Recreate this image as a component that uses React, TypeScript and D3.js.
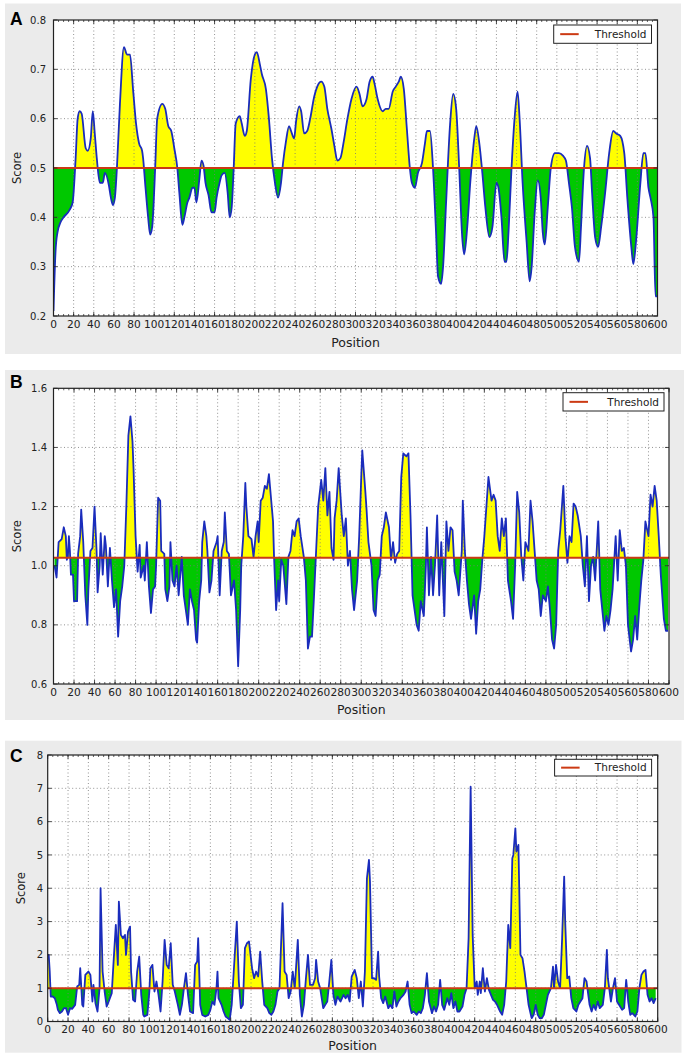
import React from 'react';
import * as d3 from 'd3';

const W = 685;
const H = 1054;

// Panel A: [position, score]
const A_DATA: [number, number][] = [
  [0,0.21],[2,0.33],[4,0.37],[7,0.39],[10,0.40],[16,0.415],[19,0.43],[22,0.52],[24,0.6],[26,0.615],[28,0.61],
  [32,0.54],[34,0.535],[37,0.56],[39,0.615],[41,0.57],[43,0.52],[46,0.47],[49,0.47],[51,0.49],[55,0.465],
  [57,0.44],[59,0.425],[61,0.44],[63,0.5],[66,0.63],[70,0.745],[73,0.73],[76,0.73],[79,0.66],[82,0.59],
  [85,0.55],[88,0.535],[89,0.52],[91,0.47],[94,0.40],[96,0.365],[98,0.38],[101,0.5],[103,0.6],[108,0.63],
  [111,0.62],[114,0.585],[117,0.575],[120,0.54],[123,0.5],[125,0.45],[128,0.385],[130,0.40],[133,0.43],
  [135,0.44],[138,0.46],[140,0.46],[142,0.43],[145,0.48],[147,0.515],[149,0.505],[151,0.47],[154,0.445],
  [157,0.41],[160,0.41],[162,0.44],[165,0.47],[167,0.485],[170,0.49],[173,0.45],[175,0.40],[177,0.42],
  [179,0.5],[181,0.59],[185,0.605],[187,0.59],[190,0.565],[192,0.575],[196,0.68],[200,0.73],[202,0.735],
  [205,0.71],[207,0.69],[211,0.66],[214,0.6],[217,0.52],[220,0.47],[223,0.44],[226,0.47],[228,0.51],
  [231,0.555],[234,0.585],[236,0.575],[239,0.56],[241,0.595],[244,0.625],[246,0.615],[249,0.57],[252,0.575],
  [255,0.6],[259,0.645],[262,0.665],[266,0.675],[269,0.665],[272,0.62],[276,0.58],[279,0.545],[282,0.515],
  [285,0.52],[288,0.55],[292,0.6],[296,0.64],[301,0.665],[304,0.65],[307,0.625],[311,0.64],[314,0.675],
  [317,0.685],[319,0.67],[322,0.64],[327,0.615],[330,0.62],[333,0.62],[337,0.655],[340,0.665],[343,0.675],
  [345,0.685],[348,0.66],[351,0.58],[354,0.5],[356,0.47],[359,0.46],[362,0.49],[366,0.51],[369,0.55],
  [371,0.575],[374,0.575],[377,0.5],[380,0.37],[382,0.28],[385,0.265],[387,0.3],[390,0.43],[394,0.59],
  [397,0.65],[400,0.62],[403,0.5],[406,0.36],[408,0.325],[411,0.38],[414,0.47],[418,0.56],[420,0.585],
  [423,0.55],[426,0.49],[429,0.42],[433,0.36],[436,0.38],[440,0.47],[442,0.46],[445,0.4],[448,0.31],
  [450,0.31],[452,0.37],[455,0.5],[458,0.6],[461,0.655],[463,0.6],[466,0.47],[470,0.35],[473,0.27],
  [475,0.3],[478,0.41],[481,0.475],[484,0.44],[486,0.37],[488,0.345],[491,0.42],[494,0.5],[498,0.53],
  [502,0.53],[506,0.525],[509,0.515],[512,0.47],[515,0.42],[518,0.34],[522,0.31],[524,0.38],[527,0.5],
  [530,0.545],[533,0.52],[535,0.45],[538,0.36],[541,0.34],[544,0.38],[548,0.45],[552,0.53],[556,0.575],
  [559,0.57],[563,0.565],[567,0.53],[570,0.44],[574,0.34],[576,0.305],[579,0.36],[583,0.47],[586,0.53],
  [588,0.53],[591,0.46],[593,0.44],[596,0.4],[598,0.24],[600,0.24],
];

// Panel B: [position, score]
const B_DATA: [number, number][] = [
  [1,1.0],[3,0.96],[5,1.08],[8,1.09],[10,1.13],[12,1.1],[13,1.02],[14,1.03],[15,1.1],[16,1.05],[17,0.97],
  [19,0.97],[20,0.88],[23,0.88],[24,1.04],[26,1.1],[27,1.19],[29,1.08],[31,0.9],[33,0.8],[34,0.92],[36,1.05],
  [38,1.06],[40,1.2],[42,1.05],[43,0.91],[45,1.0],[46,1.11],[48,0.97],[50,1.1],[51,1.07],[53,0.93],[55,1.06],
  [57,0.95],[59,0.86],[61,0.92],[63,0.76],[65,0.88],[67,0.93],[69,1.0],[71,1.2],[73,1.44],[75,1.505],[77,1.42],
  [78,1.33],[80,1.1],[82,0.98],[84,1.07],[85,0.96],[88,1.0],[89,0.95],[91,1.08],[93,0.93],[95,0.84],[97,0.92],
  [99,0.93],[100,1.0],[102,1.23],[104,1.22],[105,1.05],[108,1.04],[109,0.92],[111,0.88],[113,0.93],[114,1.08],
  [116,0.95],[118,0.93],[120,1.0],[122,0.9],[125,1.03],[127,0.9],[129,0.85],[131,0.8],[133,0.92],[135,0.88],
  [137,0.85],[139,0.75],[140,0.74],[142,0.88],[144,0.95],[145,1.08],[147,1.15],[149,1.1],[150,1.05],[152,0.91],
  [154,0.95],[156,1.05],[159,1.08],[160,1.1],[162,0.9],[164,1.05],[166,1.08],[167,1.18],[169,1.05],[171,1.04],
  [173,0.9],[176,0.95],[178,0.85],[180,0.66],[182,0.85],[183,1.0],[185,1.1],[187,1.28],[188,1.2],[190,1.1],
  [193,1.09],[195,1.03],[197,1.1],[199,1.15],[200,1.08],[202,1.22],[204,1.23],[206,1.27],[208,1.26],[210,1.31],
  [212,1.23],[214,1.15],[215,1.03],[217,0.85],[219,0.95],[220,0.88],[222,1.02],[224,1.0],[227,0.87],[229,1.03],
  [231,1.05],[233,1.12],[235,1.1],[237,1.15],[239,1.16],[241,1.1],[244,1.03],[246,0.95],[248,0.72],[250,0.76],
  [252,0.76],[254,0.9],[256,1.05],[258,1.2],[261,1.29],[263,1.22],[265,1.33],[267,1.17],[269,1.25],[271,1.06],
  [273,1.02],[274,1.16],[276,1.22],[278,1.33],[281,1.17],[283,1.1],[285,1.16],[287,1.0],[289,1.05],[291,0.92],
  [293,0.85],[296,0.95],[298,1.1],[300,1.3],[301,1.39],[304,1.25],[305,1.2],[307,1.08],[310,1.0],[312,0.85],
  [314,0.83],[316,0.95],[318,0.97],[320,1.1],[322,1.13],[324,1.18],[327,1.13],[329,1.02],[331,1.08],[333,1.01],
  [335,1.04],[337,1.05],[339,1.3],[341,1.38],[344,1.37],[346,1.38],[348,1.17],[350,0.9],[352,0.85],[354,0.8],
  [356,0.78],[358,0.88],[361,0.83],[363,1.0],[364,1.13],[366,0.9],[368,1.03],[370,0.9],[372,1.01],[374,1.17],
  [376,0.9],[378,1.08],[381,0.83],[383,1.15],[385,1.05],[387,1.13],[389,1.12],[391,0.98],[393,0.95],[395,0.9],
  [398,1.05],[399,1.22],[401,1.05],[403,0.95],[405,0.87],[407,0.82],[410,0.9],[412,0.77],[414,0.88],[416,0.92],
  [418,1.02],[420,1.1],[422,1.2],[424,1.3],[427,1.22],[429,1.24],[431,1.22],[433,1.1],[435,1.05],[437,1.16],
  [439,1.1],[441,1.16],[443,0.95],[446,0.88],[448,0.82],[450,1.0],[452,1.25],[454,1.18],[456,1.03],[458,0.95],
  [460,1.08],[463,1.05],[465,1.22],[467,1.15],[469,1.05],[471,0.95],[473,0.92],[475,0.83],[477,0.9],[480,0.88],
  [482,0.93],[484,0.85],[486,0.75],[488,0.72],[490,0.8],[492,1.05],[494,1.12],[497,1.27],[499,1.1],[501,1.01],
  [503,1.1],[505,1.08],[507,1.21],[509,1.2],[511,1.17],[514,1.1],[516,1.0],[518,0.93],[520,1.1],[522,0.88],
  [524,1.0],[526,1.03],[528,0.95],[531,1.15],[533,0.92],[535,0.85],[537,0.78],[539,0.83],[541,0.8],[543,0.85],
  [545,0.92],[548,1.1],[550,0.95],[552,1.12],[554,1.05],[556,1.06],[558,1.0],[560,0.8],[563,0.71],[565,0.75],
  [567,0.83],[569,0.75],[571,0.86],[573,0.95],[575,1.02],[577,1.15],[580,1.1],[582,1.24],[584,1.2],[586,1.27],
  [588,1.22],[590,1.1],[592,0.97],[595,0.82],[597,0.78],[599,0.78],
];

// Panel C: [position, score]
const C_DATA: [number, number][] = [
  [0,2.0],[1,2.0],[2,1.5],[3,0.75],[5,0.75],[7,0.7],[9,0.5],[10,0.35],[12,0.25],[14,0.3],[16,0.4],[18,0.4],
  [20,0.2],[22,0.4],[24,0.38],[27,0.5],[29,1.05],[31,1.1],[32,1.6],[34,0.5],[35,0.45],[37,1.4],[40,1.5],
  [42,1.4],[43,1.0],[44,0.6],[45,1.1],[47,0.55],[49,0.3],[51,1.0],[52,4.0],[54,1.5],[56,0.9],[58,0.45],
  [60,0.6],[63,0.85],[65,1.9],[67,2.9],[69,1.7],[70,3.6],[72,2.6],[74,2.5],[76,2.6],[77,2.0],[79,2.7],
  [81,2.85],[82,1.5],[84,0.65],[86,0.6],[88,1.5],[90,1.95],[92,0.8],[94,0.2],[95,0.15],[98,0.2],[100,0.9],
  [101,1.6],[103,1.7],[105,0.9],[107,1.2],[109,0.8],[111,0.3],[113,1.2],[115,2.45],[117,1.7],[119,1.6],
  [121,2.35],[123,1.1],[125,0.9],[128,0.5],[130,0.2],[132,0.5],[134,1.0],[136,1.45],[138,0.8],[140,0.3],
  [143,0.25],[145,1.7],[147,1.8],[148,2.5],[150,0.5],[152,0.2],[155,0.15],[158,0.2],[160,0.35],[162,0.6],
  [164,0.5],[166,1.0],[167,1.5],[168,0.7],[171,0.5],[173,0.3],[175,0.15],[177,0.1],[179,0.05],[181,0.5],
  [183,1.5],[186,3.0],[188,1.2],[190,0.4],[192,0.5],[194,2.2],[196,2.35],[198,2.4],[201,1.6],[203,1.3],
  [205,1.5],[207,1.35],[209,2.1],[211,1.2],[213,0.5],[216,0.4],[218,0.25],[220,0.2],[222,0.3],[224,0.5],
  [226,0.9],[228,1.0],[231,3.55],[233,1.5],[235,1.4],[237,0.7],[239,0.9],[241,1.5],[243,1.0],[246,2.45],
  [248,0.8],[250,0.15],[252,0.5],[254,1.3],[256,2.0],[258,1.1],[261,1.1],[263,1.3],[264,1.85],[266,1.2],
  [268,1.0],[271,0.4],[273,0.5],[275,0.6],[277,1.2],[279,1.85],[281,0.8],[283,0.5],[285,0.75],[288,0.6],
  [291,0.8],[293,0.7],[295,0.8],[297,0.6],[299,1.35],[302,1.55],[304,1.3],[306,0.7],[308,1.2],[310,0.45],
  [312,1.5],[314,4.3],[316,4.85],[317,4.2],[319,1.3],[321,1.3],[323,1.25],[325,2.1],[326,1.35],[328,0.7],
  [330,0.55],[332,0.75],[335,0.4],[337,0.5],[339,0.4],[341,0.9],[343,0.45],[345,0.6],[347,0.7],[350,0.8],
  [352,0.9],[354,1.2],[356,0.5],[358,0.25],[360,0.3],[363,0.2],[365,0.3],[367,0.25],[369,0.4],[371,0.8],
  [373,1.45],[375,0.6],[378,0.25],[380,0.45],[382,0.3],[384,0.5],[386,1.25],[388,0.5],[390,0.35],[393,0.7],
  [395,0.5],[397,0.85],[399,0.4],[401,0.6],[403,0.3],[405,0.3],[408,0.45],[410,0.8],[412,1.0],[414,2.5],
  [416,7.05],[418,2.6],[420,1.0],[422,1.2],[423,0.8],[425,1.2],[426,0.85],[428,1.6],[430,0.9],[432,1.3],
  [434,0.95],[436,0.8],[438,0.65],[440,0.6],[442,0.5],[445,0.3],[447,0.2],[449,0.5],[451,1.2],[453,2.9],
  [455,2.2],[457,4.9],[458,5.0],[460,5.8],[461,5.1],[463,5.3],[465,2.0],[467,1.9],[469,1.5],[471,1.0],
  [473,0.5],[476,0.1],[478,0.2],[480,0.5],[482,0.2],[484,0.1],[486,0.1],[488,0.2],[490,0.5],[492,0.8],
  [495,1.0],[497,1.65],[498,1.0],[500,1.7],[502,1.2],[504,1.0],[506,2.5],[508,4.35],[509,3.0],[511,1.3],
  [513,1.35],[515,0.7],[517,0.4],[520,0.3],[522,0.5],[524,0.6],[526,0.7],[528,1.3],[530,1.2],[533,0.5],
  [535,0.3],[537,0.5],[539,0.35],[541,0.6],[543,0.4],[546,0.5],[548,1.0],[550,2.15],[551,1.3],[554,0.6],
  [556,1.0],[558,1.3],[560,0.6],[562,0.5],[565,0.35],[567,0.4],[569,1.25],[571,0.6],[573,0.2],[575,0.25],
  [578,0.15],[580,0.3],[582,1.0],[584,1.4],[586,1.5],[588,1.55],[590,0.8],[592,0.6],[594,0.7],[596,0.55],
  [598,0.7],
];

const X_TICKS = d3.range(0, 601, 20);
const X_MINOR = d3.range(0, 601, 5);
const A_YTICKS = [0.2, 0.3, 0.4, 0.5, 0.6, 0.7, 0.8];
const B_YTICKS = [0.6, 0.8, 1.0, 1.2, 1.4, 1.6];
const C_YTICKS = [0, 1, 2, 3, 4, 5, 6, 7, 8];
const THRESHOLDS = { A: 0.5, B: 1.027, C: 1.0 };
const LEGEND_LABEL = 'Threshold';
const X_LABEL = 'Position';
const Y_LABEL = 'Score';

const FONT = '"DejaVu Sans", sans-serif';
const YELLOW = '#ffff00';
const GREEN = '#00c800';
const BLUE = '#1a2cbc';
const RED = '#cc3a14';

type Cfg = {
  id: string;
  label: string;
  data: [number, number][];
  smooth: boolean;
  threshold: number;
  yTicks: number[];
  yFmt: (v: number) => string;
  gray: { x: number; y: number; w: number; h: number };
  plot: { l: number; r: number; t: number; b: number };
  legend: { x: number; y: number; w: number; h: number };
  labelBase: number;
  scoreX: number;
  posBase: number;
  xTickBase: number;
  yTickRight: number;
};

function Panel({ c }: { c: Cfg }) {
  const { l, r, t, b } = c.plot;
  const x = d3.scaleLinear().domain([0, 600]).range([l, r]);
  const y = d3
    .scaleLinear()
    .domain([c.yTicks[0], c.yTicks[c.yTicks.length - 1]])
    .range([b, t]);
  const ty = y(c.threshold);
  const curve = c.smooth ? d3.curveMonotoneX : d3.curveLinear;
  const line = d3
    .line<[number, number]>()
    .x((d) => x(d[0]))
    .y((d) => y(d[1]))
    .curve(curve);
  const area = d3
    .area<[number, number]>()
    .x((d) => x(d[0]))
    .y0(ty)
    .y1((d) => y(d[1]))
    .curve(curve);
  const areaPath = area(c.data) || '';
  const linePath = line(c.data) || '';
  const gridStyle = { stroke: '#777', strokeWidth: 0.8, strokeDasharray: '1,2.5' };
  return (
    <g>
      <rect x={c.gray.x} y={c.gray.y} width={c.gray.w} height={c.gray.h} fill="#ebebeb" />
      <text x={10} y={c.labelBase} fontFamily='"Liberation Sans", Arial, sans-serif' fontWeight="bold" fontSize={17.5} fill="#000">
        {c.label}
      </text>
      <rect x={l} y={t} width={r - l} height={b - t} fill="#fff" />
      <defs>
        <clipPath id={`above-${c.id}`}>
          <rect x={l} y={t} width={r - l} height={ty - t} />
        </clipPath>
        <clipPath id={`below-${c.id}`}>
          <rect x={l} y={ty} width={r - l} height={b - ty} />
        </clipPath>
        <clipPath id={`plot-${c.id}`}>
          <rect x={l} y={t} width={r - l} height={b - t} />
        </clipPath>
      </defs>
      <path d={areaPath} fill={YELLOW} clipPath={`url(#above-${c.id})`} />
      <path d={areaPath} fill={GREEN} clipPath={`url(#below-${c.id})`} />
      {X_TICKS.filter((v) => v > 0 && v < 600).map((v) => (
        <line key={`gx${v}`} x1={x(v)} x2={x(v)} y1={t} y2={b} style={gridStyle} />
      ))}
      {c.yTicks.slice(1, -1).map((v) => (
        <line key={`gy${v}`} x1={l} x2={r} y1={y(v)} y2={y(v)} style={gridStyle} />
      ))}
      <path d={linePath} fill="none" stroke={BLUE} strokeWidth={1.8} strokeLinejoin="round" clipPath={`url(#plot-${c.id})`} />
      <line x1={l} x2={r} y1={ty} y2={ty} stroke={RED} strokeWidth={2} />
      {X_MINOR.map((v) => (
        <g key={`mx${v}`}>
          <line x1={x(v)} x2={x(v)} y1={b} y2={b - 2} stroke="#222" strokeWidth={0.7} />
          <line x1={x(v)} x2={x(v)} y1={t} y2={t + 2} stroke="#222" strokeWidth={0.7} />
        </g>
      ))}
      {X_TICKS.map((v) => (
        <g key={`tx${v}`}>
          <line x1={x(v)} x2={x(v)} y1={b} y2={b - 4} stroke="#222" strokeWidth={0.8} />
          <line x1={x(v)} x2={x(v)} y1={t} y2={t + 4} stroke="#222" strokeWidth={0.8} />
          <text x={x(v)} y={c.xTickBase} textAnchor="middle" fontFamily={FONT} fontSize={10.6} fill="#222">
            {v}
          </text>
        </g>
      ))}
      {c.yTicks.map((v) => (
        <g key={`ty${v}`}>
          <line x1={l} x2={l + 4} y1={y(v)} y2={y(v)} stroke="#222" strokeWidth={0.8} />
          <line x1={r} x2={r - 4} y1={y(v)} y2={y(v)} stroke="#222" strokeWidth={0.8} />
          <text x={c.yTickRight} y={y(v) + 3.6} textAnchor="end" fontFamily={FONT} fontSize={10} fill="#222">
            {c.yFmt(v)}
          </text>
        </g>
      ))}
      <rect x={l} y={t} width={r - l} height={b - t} fill="none" stroke="#222" strokeWidth={1.2} />
      <text
        transform={`translate(${c.scoreX},${(t + b) / 2}) rotate(-90)`}
        textAnchor="middle"
        fontFamily={FONT}
        fontSize={11.5}
        fill="#222"
      >
        {Y_LABEL}
      </text>
      <text x={(l + r) / 2} y={c.posBase} textAnchor="middle" fontFamily={FONT} fontSize={12.5} fill="#222">
        {X_LABEL}
      </text>
      <rect x={c.legend.x} y={c.legend.y} width={c.legend.w} height={c.legend.h} fill="#fff" stroke="#222" strokeWidth={1} />
      <line
        x1={c.legend.x + 6.5}
        x2={c.legend.x + 25}
        y1={c.legend.y + c.legend.h / 2}
        y2={c.legend.y + c.legend.h / 2}
        stroke={RED}
        strokeWidth={2}
      />
      <text
        x={c.legend.x + c.legend.w - 5}
        y={c.legend.y + c.legend.h / 2 + 3.8}
        textAnchor="end"
        fontFamily={FONT}
        fontSize={10.5}
        fill="#222"
      >
        {LEGEND_LABEL}
      </text>
    </g>
  );
}

const f1 = d3.format('.1f');
const f0 = d3.format('d');

const PANELS: Cfg[] = [
  {
    id: 'a',
    label: 'A',
    data: A_DATA,
    smooth: true,
    threshold: THRESHOLDS.A,
    yTicks: A_YTICKS,
    yFmt: f1,
    gray: { x: 5, y: 3.5, w: 676, h: 350.5 },
    plot: { l: 53.5, r: 657.5, t: 20, b: 316 },
    legend: { x: 553.7, y: 25, w: 97.8, h: 18.3 },
    labelBase: 24.5,
    scoreX: 21,
    posBase: 347,
    xTickBase: 327.7,
    yTickRight: 46,
  },
  {
    id: 'b',
    label: 'B',
    data: B_DATA,
    smooth: false,
    threshold: THRESHOLDS.B,
    yTicks: B_YTICKS,
    yFmt: f1,
    gray: { x: 5, y: 370, w: 679, h: 350 },
    plot: { l: 53.5, r: 669, t: 388.3, b: 684 },
    legend: { x: 563, y: 392.7, w: 101, h: 18.3 },
    labelBase: 387.5,
    scoreX: 21,
    posBase: 714,
    xTickBase: 696,
    yTickRight: 47,
  },
  {
    id: 'c',
    label: 'C',
    data: C_DATA,
    smooth: false,
    threshold: THRESHOLDS.C,
    yTicks: C_YTICKS,
    yFmt: f0,
    gray: { x: 5, y: 740.7, w: 676.5, h: 312 },
    plot: { l: 47.7, r: 657.7, t: 755, b: 1021.5 },
    legend: { x: 554.6, y: 759.3, w: 97, h: 16.7 },
    labelBase: 762,
    scoreX: 25,
    posBase: 1050,
    xTickBase: 1032.7,
    yTickRight: 43,
  },
];

export default function App() {
  return (
    <svg
      width={W}
      height={H}
      viewBox={`0 0 ${W} ${H}`}
      style={{ position: 'absolute', left: 0, top: 0, background: '#fff' }}
    >
      {PANELS.map((p) => (
        <Panel key={p.id} c={p} />
      ))}
    </svg>
  );
}
